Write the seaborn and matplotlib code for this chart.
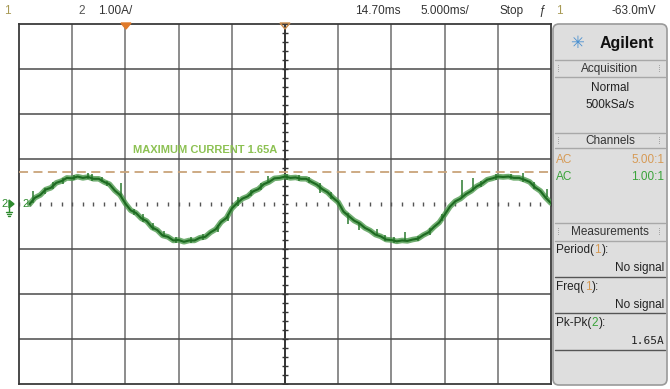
import numpy as np
import matplotlib
matplotlib.use("Agg")
import matplotlib.pyplot as plt
from matplotlib.patches import FancyBboxPatch, Polygon
import seaborn as sns

# ---- channel 2 current trace (A) sampled every 0.5 ms, 5 ms/div ----
t_start_ms = 1.0
t_step_ms = 0.5
current_a = [
    0.00, 0.14, 0.20, 0.32, 0.36, 0.47, 0.51, 0.58, 0.57, 0.61,
    0.58, 0.60, 0.56, 0.56, 0.49, 0.44, 0.30, 0.20, 0.01,
    -0.14, -0.20, -0.32, -0.38, -0.52, -0.58, -0.70, -0.73, -0.81, -0.80,
    -0.84, -0.81, -0.81, -0.75, -0.73, -0.63, -0.56, -0.40, -0.31, -0.10, 0.02,
    0.12, 0.17, 0.28, 0.33, 0.44, 0.49, 0.57, 0.58, 0.61, 0.58,
    0.59, 0.56, 0.56, 0.49, 0.43, 0.33, 0.26, 0.14, 0.04,
    -0.17, -0.27, -0.37, -0.43, -0.53, -0.59, -0.68, -0.72, -0.79, -0.80,
    -0.83, -0.81, -0.82, -0.79, -0.77, -0.69, -0.63, -0.51, -0.41, -0.24, -0.06,
    0.06, 0.12, 0.22, 0.29, 0.39, 0.45, 0.54, 0.57, 0.61, 0.60,
    0.61, 0.58, 0.58, 0.54, 0.49, 0.37, 0.29, 0.14, 0.02,
]
time_ms = t_start_ms + t_step_ms * np.arange(len(current_a))

# noise spikes on the trace: time (ms), low (A), high (A)
spike_t = [1.3, 2.4, 3.2, 4.1, 5.2, 6.5, 6.9, 7.8, 8.3, 9.6, 10.8, 11.7,
           12.6, 13.6, 14.8, 16.2, 17.3, 18.7, 19.6, 20.6, 21.8, 22.7, 23.4,
           25.2, 26.3, 27.3, 28.3, 29.3, 30.9, 32.0, 33.6, 34.4, 35.2, 36.3,
           37.5, 38.6, 39.8, 41.6, 42.7, 43.4, 44.8, 46.2, 47.4, 48.4, 49.6]
spike_lo = [0.02, 0.22, 0.33, 0.45, 0.54, 0.55, 0.52, 0.48, 0.40, 0.16, -0.25, -0.40,
            -0.58, -0.74, -0.87, -0.86, -0.80, -0.62, -0.38, -0.05, 0.18, 0.32, 0.50,
            0.54, 0.52, 0.46, 0.24, 0.12, -0.45, -0.58, -0.72, -0.82, -0.86, -0.82,
            -0.82, -0.68, -0.38, 0.15, 0.30, 0.38, 0.54, 0.55, 0.50, 0.34, 0.15]
spike_hi = [0.30, 0.36, 0.48, 0.58, 0.64, 0.69, 0.66, 0.60, 0.52, 0.46, -0.10, -0.22,
            -0.42, -0.60, -0.74, -0.74, -0.66, -0.46, -0.22, 0.16, 0.32, 0.46, 0.62,
            0.66, 0.64, 0.60, 0.47, 0.26, -0.20, -0.42, -0.55, -0.68, -0.74, -0.62,
            -0.70, -0.54, -0.22, 0.53, 0.58, 0.52, 0.66, 0.66, 0.69, 0.48, 0.34]

max_current_level = 0.71      # marker line (A)
max_current_text = "MAXIMUM CURRENT 1.65A"

# scope settings
x_divs, y_divs = 10, 8
ms_per_div, amp_per_div = 5.0, 1.0

sns.set_theme(style="white")
plt.rcParams["font.family"] = ["Liberation Sans", "DejaVu Sans"]

W, H = 670, 389
fig = plt.figure(figsize=(W / 100, H / 100), dpi=100, facecolor="white")

# graticule area in pixels
gx0, gx1, gy0, gy1 = 19, 551, 24, 384
ax = fig.add_axes([gx0 / W, (H - gy1) / H, (gx1 - gx0) / W, (gy1 - gy0) / H])
ax.set_xlim(0, x_divs * ms_per_div)
ax.set_ylim(-y_divs / 2 * amp_per_div, y_divs / 2 * amp_per_div)
ax.set_facecolor("white")
ax.set_xticks([])
ax.set_yticks([])
for s in ax.spines.values():
    s.set_color("#3a3a3a")
    s.set_linewidth(1.3)

# major divisions
for k in range(1, x_divs):
    xv = k * ms_per_div
    ax.axvline(xv, color="#111111" if k == x_divs // 2 else "#6e6e6e",
               lw=1.2 if k == x_divs // 2 else 1.1, zorder=1)
for k in range(1, y_divs):
    if k == y_divs // 2:
        continue
    ax.axhline(-y_divs / 2 + k * amp_per_div, color="#4a4a4a", lw=1.1, zorder=1)

# minor ticks on the centre axes
xc = x_divs / 2 * ms_per_div
minor_y = np.arange(-y_divs / 2, y_divs / 2 + 1e-9, amp_per_div / 5)
ax.plot(np.full_like(minor_y, xc), minor_y, ls="none", marker="_", ms=5,
        mew=1.0, color="#333333", zorder=2)
minor_x = np.arange(0, x_divs * ms_per_div + 1e-9, ms_per_div / 5)
ax.plot(minor_x, np.zeros_like(minor_x), ls="none", marker="|", ms=3,
        mew=1.0, color="#555555", zorder=2)

# maximum current marker
ax.axhline(max_current_level, color="#c9a47a", lw=1.3, ls=(0, (5, 3)), zorder=3)
ax.text(17.5, 1.2, max_current_text, color="#8cc152", fontsize=8.0,
        fontweight="bold", ha="center", va="center", zorder=4)

# trace: soft halo plus darker core and noise strokes
sns.lineplot(x=time_ms, y=current_a, ax=ax, color="#4e9a4e", lw=4.0,
             alpha=0.8, zorder=5, estimator=None, sort=False)
ax.vlines(spike_t, spike_lo, spike_hi, color="#2b7a2f", lw=1.1, zorder=6)
sns.lineplot(x=time_ms, y=current_a, ax=ax, color="#1d6b21", lw=1.5,
             zorder=6, estimator=None, sort=False)

# ---- overlay for the screen furniture (pixel coordinates) ----
ov = fig.add_axes([0, 0, 1, 1], facecolor="none")
ov.set_xlim(0, W)
ov.set_ylim(H, 0)
ov.axis("off")
renderer = fig.canvas.get_renderer()

top_y = 11
tb = dict(fontsize=8.5, va="center")
ov.text(4, top_y, "1", color="#a89a55", **tb)
ov.text(78, top_y, "2", color="#555555", **tb)
ov.text(98, top_y, "1.00A/", color="#333333", **tb)
ov.text(355, top_y, "14.70ms", color="#333333", **tb)
ov.text(420, top_y, "5.000ms/", color="#333333", **tb)
ov.text(499, top_y, "Stop", color="#333333", **tb)
ov.text(538, top_y, "ƒ", color="#333333", fontsize=8.5, va="center", style="italic")
ov.text(556, top_y, "1", color="#a89a55", **tb)
ov.text(612, top_y, "-63.0mV", color="#333333", **tb)

# trigger / delay markers on the top edge
ov.add_patch(Polygon([[121, gy0 - 1], [131, gy0 - 1], [126, gy0 + 5]],
                     closed=True, color="#e07a2a", zorder=10))
ov.add_patch(Polygon([[280, gy0 - 1], [290, gy0 - 1], [285, gy0 + 5]],
                     closed=True, fill=False, edgecolor="#c98a4a", lw=1.0, zorder=10))

# channel 2 ground reference: label, arrow and ground sign
g = "#2e8b2e"
ov.text(1, 204, "2", color=g, fontsize=8, va="center")
ov.add_patch(Polygon([[9, 200], [9, 208], [14, 204]], closed=True, color=g))
ov.text(22, 204, "2", color=g, fontsize=8, va="center")
ov.plot([9, 9], [208, 212], color=g, lw=1.0)
ov.plot([6, 12], [212, 212], color=g, lw=1.0)
ov.plot([7, 11], [214, 214], color=g, lw=1.0)
ov.plot([8, 10], [216, 216], color=g, lw=1.0)

# ---- side panel ----
px0, px1, py0, py1 = 553, 667, 24, 385
ov.add_patch(FancyBboxPatch((px0, py0), px1 - px0, py1 - py0,
                            boxstyle="round,pad=0,rounding_size=6",
                            facecolor="#dedede", edgecolor="#9a9a9a", lw=1.2))
ov.text(577, 43, "✳", color="#4a90d0", fontsize=12, ha="center", va="center",
        family="DejaVu Sans")
ov.text(600, 43, "Agilent", color="#111111", fontsize=11.5, fontweight="bold",
        va="center")


def section(y_top, y_text, y_bot, title):
    ov.plot([px0 + 2, px1 - 2], [y_top, y_top], color="#a8a8a8", lw=1.0)
    ov.plot([px0 + 2, px1 - 2], [y_bot, y_bot], color="#a8a8a8", lw=1.0)
    ov.text((px0 + px1) / 2, y_text, title, color="#333333", fontsize=8.5,
            ha="center", va="center")
    ov.text(px0 + 4, y_text, "⁞", color="#9a9a9a", fontsize=7, va="center",
            family="DejaVu Sans")
    ov.text(px1 - 9, y_text, "⁞", color="#9a9a9a", fontsize=7, va="center",
            family="DejaVu Sans")


section(60, 69, 77, "Acquisition")
ov.text(610, 88, "Normal", color="#222222", fontsize=8.5, ha="center", va="center")
ov.text(610, 105, "500kSa/s", color="#222222", fontsize=8.5, ha="center", va="center")

section(133, 141, 148, "Channels")
ov.text(556, 160, "AC", color="#d69a55", fontsize=8.5, va="center")
ov.text(664, 160, "5.00:1", color="#d69a55", fontsize=8.5, ha="right", va="center")
ov.text(556, 177, "AC", color="#3aa33a", fontsize=8.5, va="center")
ov.text(664, 177, "1.00:1", color="#3aa33a", fontsize=8.5, ha="right", va="center")

section(223, 232, 241, "Measurements")


def run_text(x, y, parts):
    """Draw coloured pieces one after another on a single line."""
    for s, c in parts:
        t = ov.text(x, y, s, color=c, fontsize=8.5, va="center")
        x = t.get_window_extent(renderer).x1 + 0.5


def meas(y, name, chan, chan_color, value, y_line, mono=False):
    run_text(556, y, [(name + "(", "#222222"), (chan, chan_color), ("):", "#222222")])
    ov.text(664, y + 18, value, color="#222222", fontsize=8.5 if not mono else 8,
            ha="right", va="center",
            family="DejaVu Sans Mono" if mono else None)
    ov.plot([px0 + 2, px1 - 2], [y_line, y_line], color="#555555", lw=1.0)


meas(250, "Period", "1", "#d69a55", "No signal", 277)
meas(287, "Freq", "1", "#d69a55", "No signal", 313)
meas(323, "Pk-Pk", "2", "#3aa33a", "1.65A", 350, mono=True)

fig.savefig("out.png", dpi=100, facecolor="white")
